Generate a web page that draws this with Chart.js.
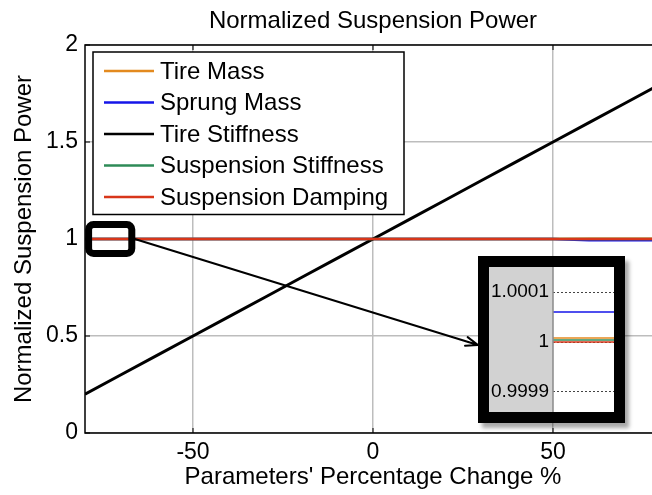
<!DOCTYPE html>
<html>
<head>
<meta charset="utf-8">
<script src="https://cdn.jsdelivr.net/npm/chart.js@4.4.1/dist/chart.umd.min.js"></script>
<style>
  html, body { margin: 0; padding: 0; background: #fff; overflow: hidden; }
  #wrap { position: relative; width: 652px; height: 495px; overflow: hidden; }
  #main { position: absolute; left: 0; top: 0; }
  #inset {
    position: absolute; left: 478px; top: 256px; width: 125px; height: 145px;
    border: 11px solid #000; background: #d2d2d2;
    box-shadow: 4px 5px 4px rgba(0, 0, 0, 0.35);
  }
  #zoom { display: block; }
</style>
</head>
<body>
<div id="wrap">
  <canvas id="main" width="690" height="495"></canvas>
  <div id="inset"><canvas id="zoom" width="125" height="145"></canvas></div>
</div>
<script>
// parameter change in %, one sample per 10 %
const pctChange = [-80, -70, -60, -50, -40, -30, -20, -10, 0, 10, 20, 30, 40, 50, 60, 70, 80];

// normalized suspension power for each parameter sweep
const tireMass = [1.000008, 1.000008, 1.000008, 1.000006, 1.000005, 1.000004, 1.000003, 1.000001, 1, 1, 1, 1, 1, 1, 1.0015, 1.0015, 1.0015];
const sprungMass = [1.00006, 1.00006, 1.00006, 1.00004, 1.00003, 1.00002, 1.00001, 1, 1, 1, 1, 1, 1, 0.9995, 0.994, 0.993, 0.993];
const tireStiffness = [0.2, 0.3, 0.4, 0.5, 0.6, 0.7, 0.8, 0.9, 1.0, 1.1, 1.2, 1.3, 1.4, 1.5, 1.6, 1.7, 1.8];
const suspStiffness = [1.000004, 1.000004, 1.000004, 1.000003, 1.000003, 1.000002, 1.000001, 1, 1, 1, 1, 1, 1, 1, 1, 1, 1];
const suspDamping = [1, 1, 1, 1, 1, 1, 1, 1, 1, 1, 1, 1, 1, 1, 1, 1, 1];

const seriesNames = ['Tire Mass', 'Sprung Mass', 'Tire Stiffness', 'Suspension Stiffness', 'Suspension Damping'];
const seriesValues = [tireMass, sprungMass, tireStiffness, suspStiffness, suspDamping];
const seriesColors = ['#E38A1F', '#1515E8', '#000000', '#2E8B57', '#D8361A'];

const xTicks = [-50, 0, 50];
const yTicks = [0, 0.5, 1, 1.5, 2];
const insetTicks = [0.9999, 1, 1.0001];

// region of the main plot that the inset magnifies
const zoomWindowX = [-79, -67];
const zoomWindowY = [0.925, 1.075];

const FONT = 'Liberation Sans, Arial, Helvetica, sans-serif';
Chart.defaults.font.family = FONT;
Chart.defaults.color = '#000';

const makeDatasets = (width) => seriesNames.map((name, i) => ({
    label: name,
    data: pctChange.map((x, j) => ({ x, y: seriesValues[i][j] })),
    borderColor: seriesColors[i],
    backgroundColor: seriesColors[i],
    borderWidth: i === 2 ? width + 0.5 : width,
    pointRadius: 0,
    tension: 0,
    order: seriesNames.length - i   // later series drawn on top, like MATLAB
}));

const fixedTicks = (values) => (scale) => {
    scale.ticks = values.map(v => ({ value: v }));
};

// axes box + inward tick marks
const framePlugin = {
    id: 'frame',
    afterDatasetsDraw(chart) {
        const { ctx, chartArea: a, scales } = chart;
        ctx.save();
        ctx.strokeStyle = '#000';
        ctx.lineWidth = 1.5;
        ctx.strokeRect(a.left, a.top, a.right - a.left, a.bottom - a.top);
        ctx.lineWidth = 1;
        xTicks.forEach(v => {
            const px = scales.x.getPixelForValue(v);
            ctx.beginPath();
            ctx.moveTo(px, a.bottom); ctx.lineTo(px, a.bottom - 5);
            ctx.moveTo(px, a.top); ctx.lineTo(px, a.top + 5);
            ctx.stroke();
        });
        yTicks.forEach(v => {
            const py = scales.y.getPixelForValue(v);
            ctx.beginPath();
            ctx.moveTo(a.left, py); ctx.lineTo(a.left + 5, py);
            ctx.stroke();
        });
        ctx.restore();
    }
};

// zoom marker box and arrow pointing to the inset
const markerPlugin = {
    id: 'marker',
    afterDatasetsDraw(chart) {
        const { ctx, scales } = chart;
        const x0 = scales.x.getPixelForValue(zoomWindowX[0]);
        const x1 = scales.x.getPixelForValue(zoomWindowX[1]);
        const y0 = scales.y.getPixelForValue(zoomWindowY[1]);
        const y1 = scales.y.getPixelForValue(zoomWindowY[0]);
        const yc = scales.y.getPixelForValue(1);
        ctx.save();
        ctx.strokeStyle = '#000';
        ctx.lineWidth = 7;
        ctx.lineJoin = 'round';
        ctx.beginPath();
        ctx.roundRect(x0, y0, x1 - x0, y1 - y0, 5);
        ctx.stroke();

        // arrow to inset (left edge of inset frame)
        const tx = 478, ty = 345;
        const sx = x1 + 3, sy = yc;
        ctx.lineWidth = 2;
        ctx.lineCap = 'round';
        ctx.beginPath();
        ctx.moveTo(sx, sy);
        ctx.lineTo(tx, ty);
        const ang = Math.atan2(ty - sy, tx - sx);
        const len = 13, spread = 0.35;
        ctx.moveTo(tx, ty);
        ctx.lineTo(tx - len * Math.cos(ang - spread), ty - len * Math.sin(ang - spread));
        ctx.moveTo(tx, ty);
        ctx.lineTo(tx - len * Math.cos(ang + spread), ty - len * Math.sin(ang + spread));
        ctx.stroke();
        ctx.restore();
    }
};

// MATLAB-style legend inside the axes
const legendPlugin = {
    id: 'boxLegend',
    afterDraw(chart) {
        const { ctx } = chart;
        const left = 93, top = 52, rowH = 31.5, w = 311;
        const h = rowH * seriesNames.length + 5;
        ctx.save();
        ctx.fillStyle = '#fff';
        ctx.fillRect(left, top, w, h);
        ctx.strokeStyle = '#000';
        ctx.lineWidth = 1.5;
        ctx.strokeRect(left, top, w, h);
        ctx.font = '24px ' + FONT;
        ctx.textBaseline = 'middle';
        seriesNames.forEach((name, i) => {
            const y = top + 19 + i * rowH;
            ctx.strokeStyle = seriesColors[i];
            ctx.lineWidth = 2.5;
            ctx.beginPath();
            ctx.moveTo(left + 11, y);
            ctx.lineTo(left + 61, y);
            ctx.stroke();
            ctx.fillStyle = '#000';
            ctx.fillText(name, left + 67, y + 1);
        });
        ctx.restore();
    }
};

new Chart(document.getElementById('main'), {
    type: 'line',
    data: { datasets: makeDatasets(2.5) },
    options: {
        responsive: false,
        animation: false,
        devicePixelRatio: 1,
        layout: { padding: { left: 0, right: 29, top: 0, bottom: 0 } },
        plugins: {
            legend: { display: false },
            tooltip: { enabled: false },
            title: {
                display: true,
                fullSize: false,
                text: 'Normalized Suspension Power',
                font: { size: 24, weight: 'normal' },
                color: '#000',
                padding: { top: 7, bottom: 9.2 }
            }
        },
        scales: {
            x: {
                type: 'linear',
                min: -80,
                max: 80,
                afterBuildTicks: fixedTicks(xTicks),
                afterFit: (s) => { s.height = 62; s.paddingLeft = 0; s.paddingRight = 0; },
                ticks: { font: { size: 23 }, color: '#000', padding: 6, maxRotation: 0 },
                grid: { color: '#bdbdbd', lineWidth: 1.5, drawTicks: false },
                border: { display: false },
                title: {
                    display: true,
                    text: "Parameters' Percentage Change %",
                    font: { size: 24 },
                    color: '#000',
                    padding: { top: 0, bottom: 3 }
                }
            },
            y: {
                type: 'linear',
                min: 0,
                max: 2,
                afterBuildTicks: fixedTicks(yTicks),
                afterFit: (s) => { s.width = 85; s.paddingTop = 0; s.paddingBottom = 0; },
                ticks: { font: { size: 23 }, color: '#000', padding: 7, callback: (v) => String(v) },
                grid: { color: '#bdbdbd', lineWidth: 1.5, drawTicks: false },
                border: { display: false },
                title: {
                    display: true,
                    text: 'Normalized Suspension Power',
                    font: { size: 24 },
                    color: '#000',
                    padding: { top: 10, bottom: 0 }
                }
            }
        }
    },
    plugins: [framePlugin, markerPlugin, legendPlugin]
});

// white plot area and gray axis line inside the inset
const insetBgPlugin = {
    id: 'insetBg',
    beforeDraw(chart) {
        const { ctx, chartArea: a } = chart;
        ctx.save();
        ctx.fillStyle = '#fff';
        ctx.fillRect(a.left, a.top, a.right - a.left, a.bottom - a.top);
        ctx.restore();
    },
    afterDatasetsDraw(chart) {
        const { ctx, chartArea: a } = chart;
        ctx.save();
        ctx.strokeStyle = '#8a8a8a';
        ctx.lineWidth = 1.5;
        ctx.beginPath();
        ctx.moveTo(a.left, a.top);
        ctx.lineTo(a.left, a.bottom);
        ctx.stroke();
        ctx.restore();
    }
};

new Chart(document.getElementById('zoom'), {
    type: 'line',
    data: { datasets: makeDatasets(1.5) },
    options: {
        responsive: false,
        animation: false,
        devicePixelRatio: 1,
        layout: { padding: 0 },
        plugins: { legend: { display: false }, tooltip: { enabled: false }, title: { display: false } },
        scales: {
            x: { type: 'linear', display: false, min: zoomWindowX[0], max: zoomWindowX[1] },
            y: {
                type: 'linear',
                min: 0.99986,
                max: 1.00015,
                afterBuildTicks: fixedTicks(insetTicks),
                afterFit: (s) => { s.width = 64; s.paddingTop = 0; s.paddingBottom = 0; },
                ticks: { font: { size: 19 }, color: '#000', padding: 4, callback: (v) => String(+v.toFixed(4)) },
                grid: { color: '#444', lineWidth: 1, drawTicks: false },
                border: { display: false, dash: [2, 2] }
            }
        }
    },
    plugins: [insetBgPlugin]
});
</script>
</body>
</html>
